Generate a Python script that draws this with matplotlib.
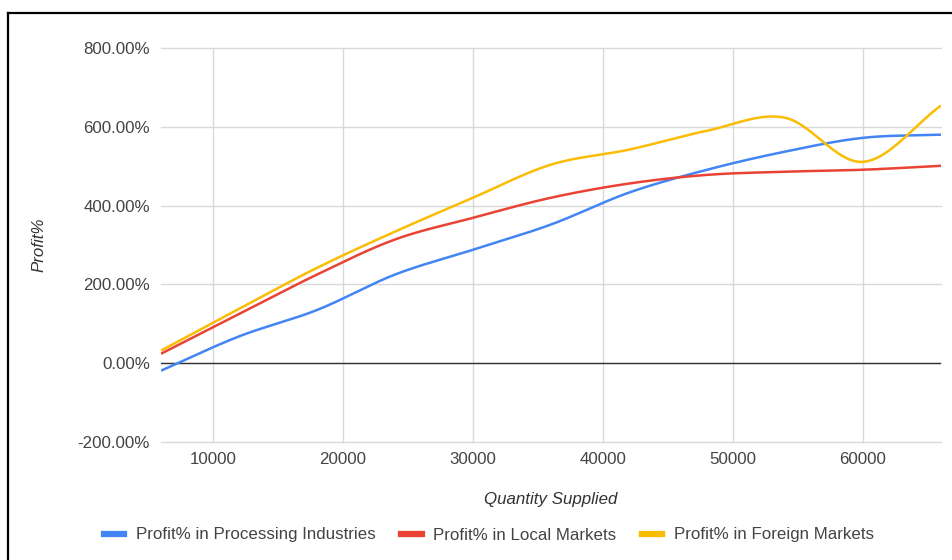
import numpy as np
import matplotlib.pyplot as plt
from matplotlib.lines import Line2D
from matplotlib.ticker import FuncFormatter

plt.rcParams['font.family'] = ['Liberation Sans', 'DejaVu Sans']

# data
quantity = [6000, 12000, 18000, 24000, 30000, 36000, 42000, 48000, 54000, 60000, 66000]
processing = [-19, 68, 135, 225, 288, 352, 433, 491, 537, 572, 580]
local = [24, 125, 225, 314, 369, 420, 456, 478, 486, 491, 501]
foreign = [32, 138, 242, 334, 420, 504, 542, 590, 623, 511, 654]

series = [
    ('Profit% in Processing Industries', processing, '#4285F4'),
    ('Profit% in Local Markets', local, '#EA4335'),
    ('Profit% in Foreign Markets', foreign, '#FBBC04'),
]


def smooth(x, y, n=30):
    # catmull-rom curve through the points, like the spreadsheet's smoothed lines
    x = np.asarray(x, float)
    y = np.asarray(y, float)
    px = np.concatenate([[2 * x[0] - x[1]], x, [2 * x[-1] - x[-2]]])
    py = np.concatenate([[2 * y[0] - y[1]], y, [2 * y[-1] - y[-2]]])
    t = np.linspace(0, 1, n)
    xs, ys = [], []
    for i in range(1, len(px) - 2):
        for p, out in ((px, xs), (py, ys)):
            p0, p1, p2, p3 = p[i - 1], p[i], p[i + 1], p[i + 2]
            out.extend(0.5 * ((2 * p1) + (-p0 + p2) * t
                              + (2 * p0 - 5 * p1 + 4 * p2 - p3) * t ** 2
                              + (-p0 + 3 * p1 - 3 * p2 + p3) * t ** 3))
    return np.array(xs), np.array(ys)


fs = 12.2
fig = plt.figure(figsize=(9.52, 5.6), dpi=100)
ax = fig.add_axes([161 / 952, 1 - 442 / 560, 780 / 952, 394 / 560])

for name, vals, col in series:
    sx, sy = smooth(quantity, vals)
    ax.plot(sx, sy, color=col, lw=1.8, label=name, solid_capstyle='butt', zorder=3)

ax.axhline(0, color='#333333', lw=1.0, zorder=2)
ax.set_xlim(6000, 66000)
ax.set_ylim(-200, 800)
ax.set_xticks([10000, 20000, 30000, 40000, 50000, 60000])
ax.set_yticks([-200, 0, 200, 400, 600, 800])
ax.yaxis.set_major_formatter(FuncFormatter(lambda v, p: f'{v:.2f}%'))
ax.grid(True, color='#d9d9d9', lw=1.0, zorder=0)
for gl in ax.get_xgridlines() + ax.get_ygridlines():
    gl.set_clip_on(False)
for s in ax.spines.values():
    s.set_visible(False)
ax.tick_params(length=0, labelsize=fs, labelcolor='#444444')
ax.tick_params(axis='x', pad=7)
ax.tick_params(axis='y', pad=8)

ax.set_xlabel('Quantity Supplied', style='italic', fontsize=fs, color='#333333', labelpad=18)
ax.set_ylabel('Profit%', style='italic', fontsize=fs, color='#333333', labelpad=22)

handles = [Line2D([], [], color=col, lw=4.5) for _, _, col in series]
leg = fig.legend(handles, [s[0] for s in series], loc='center', bbox_to_anchor=(489 / 952, 1 - 535 / 560),
                 ncol=3, frameon=False, fontsize=fs, handlelength=1.2, handletextpad=0.7,
                 columnspacing=1.5, labelcolor='#444444')
for t in leg.get_texts():
    t.set_text(t.get_text())
    t.set_va('baseline')

# screenshot border
fig.add_artist(Line2D([8 / 952, 1], [1 - 13 / 560] * 2, color='black', lw=1.6, transform=fig.transFigure))
fig.add_artist(Line2D([8 / 952] * 2, [0, 1 - 13 / 560], color='black', lw=1.6, transform=fig.transFigure))

fig.savefig('out.png', dpi=100)
